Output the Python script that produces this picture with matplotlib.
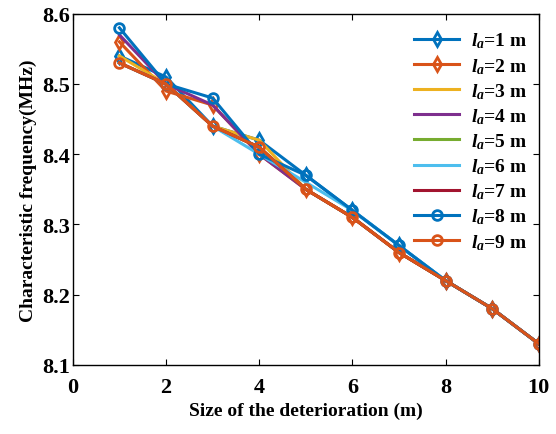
import matplotlib
matplotlib.use('Agg')
import matplotlib.pyplot as plt

plt.rcParams['font.family'] = 'Liberation Serif'
plt.rcParams['font.weight'] = 'bold'
plt.rcParams['mathtext.fontset'] = 'custom'
plt.rcParams['mathtext.it'] = 'Liberation Serif:italic:bold'
plt.rcParams['mathtext.rm'] = 'Liberation Serif:bold'

# Data
sizes = [1, 2, 3, 4, 5, 6, 7, 8, 9, 10]
la_1 = [8.54, 8.51, 8.44, 8.42, 8.37, 8.32, 8.27, 8.22, 8.18, 8.13]
la_2 = [8.56, 8.49, 8.47, 8.40, 8.35, 8.31, 8.26, 8.22, 8.18, 8.13]
la_3 = [8.54, 8.50, 8.44, 8.42, 8.35, 8.31, 8.26, 8.22, 8.18, 8.13]
la_4 = [8.57, 8.50, 8.47, 8.40, 8.35, 8.31, 8.26, 8.22, 8.18, 8.13]
la_5 = [8.53, 8.50, 8.44, 8.41, 8.35, 8.31, 8.26, 8.22, 8.18, 8.13]
la_6 = [8.53, 8.50, 8.44, 8.40, 8.36, 8.32, 8.27, 8.22, 8.18, 8.13]
la_7 = [8.53, 8.50, 8.44, 8.41, 8.35, 8.31, 8.26, 8.22, 8.18, 8.13]
la_8 = [8.58, 8.50, 8.48, 8.40, 8.37, 8.32, 8.27, 8.22, 8.18, 8.13]
la_9 = [8.53, 8.50, 8.44, 8.41, 8.35, 8.31, 8.26, 8.22, 8.18, 8.13]

series = [la_1, la_2, la_3, la_4, la_5, la_6, la_7, la_8, la_9]
labels = [r'$l_a$=%d m' % (i + 1) for i in range(9)]
colors = ['#0072BD', '#D95319', '#EDB120', '#7E2F8E', '#77AC30',
          '#4DBEEE', '#A2142F', '#0072BD', '#D95319']
markers = ['d', 'd', None, None, None, None, None, 'o', 'o']

fig = plt.figure(figsize=(5.56, 4.35), dpi=100)
ax = fig.add_axes([0.131, 0.159, 0.838, 0.807])

for vals, lab, c, m in zip(series, labels, colors, markers):
    ax.plot(sizes, vals, color=c, lw=2.2, marker=m, markersize=7,
            markerfacecolor='none', markeredgewidth=2, label=lab)

ax.set_xlim(0, 10)
ax.set_ylim(8.1, 8.6)
ax.set_xticks([0, 2, 4, 6, 8, 10])
ax.set_yticks([8.1, 8.2, 8.3, 8.4, 8.5, 8.6])
ax.tick_params(labelsize=16, direction='in', length=4, top=True, right=True)
ax.tick_params(axis='x', pad=9)
ax.tick_params(axis='y', pad=2)
for s in ax.spines.values():
    s.set_linewidth(1)
ax.set_xlabel('Size of the deterioration (m)', fontsize=14, fontweight='bold',
              labelpad=3)
ax.set_ylabel('Characteristic frequency(MHz)', fontsize=14, fontweight='bold')

ax.legend(loc='upper right', bbox_to_anchor=(1.0, 0.985), frameon=False,
          fontsize=14, handlelength=2.3, labelspacing=0.28, borderaxespad=0.1,
          borderpad=0.5, handletextpad=0.6)

fig.savefig('out.png', dpi=100)
